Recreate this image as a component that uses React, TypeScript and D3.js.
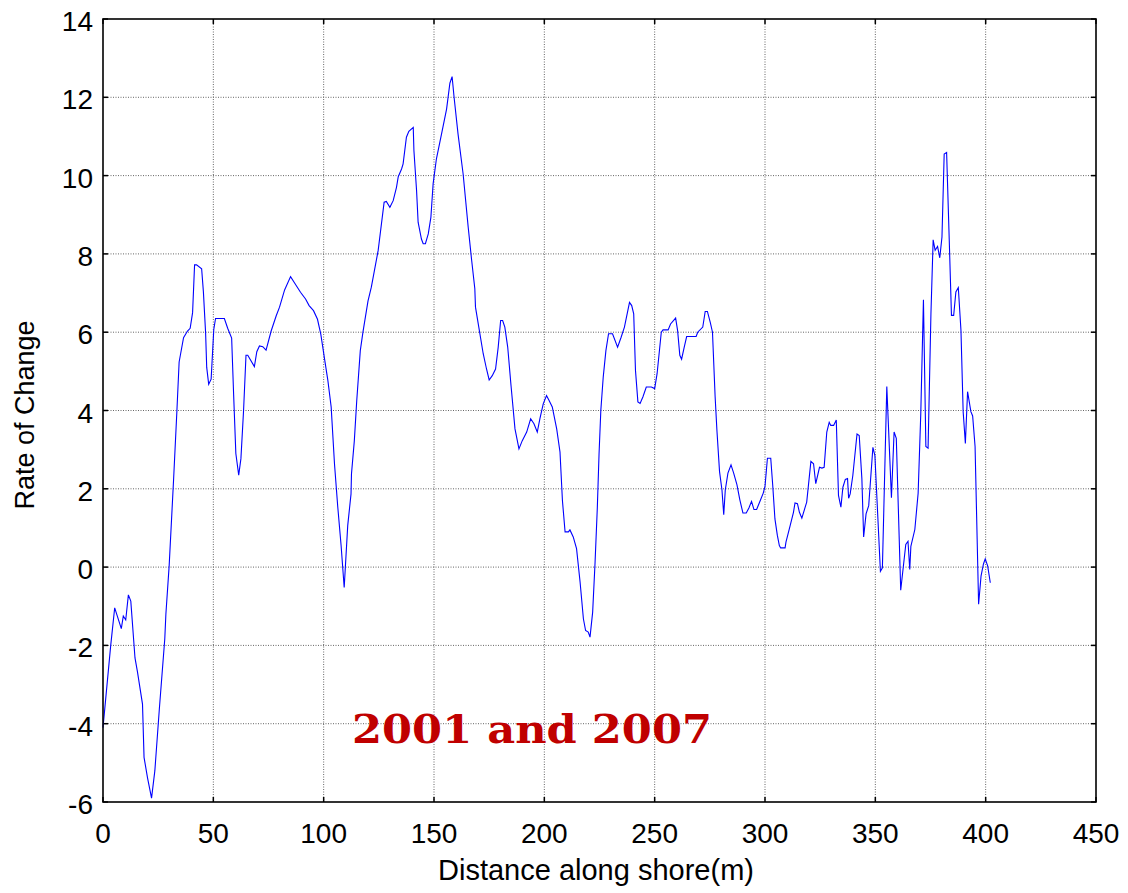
import * as d3 from "d3";

const distance = [
  0, 3.5, 5.3, 8.3, 9.2, 10.3, 11.5, 12.6, 14.5, 15.6, 17.9, 18.6, 20.2, 22, 23.5, 25.5, 28, 28.5, 30, 32,
  33.5, 34.5, 36.5, 38.3, 39.5, 40.6, 41.5, 42.4, 44.7, 45.5, 46.5, 47, 47.9, 49, 50.2, 51, 55, 56.5, 58.3, 59.2,
  60.2, 61.5, 62.5, 63.7, 64.8, 65.6, 68.6, 69.7, 70.9, 72.4, 73.9, 76.2, 78.5, 80, 82.3, 85, 86.9, 89.5, 91.8, 93.4,
  95.4, 97.2, 98.7, 100.5, 101.9, 103.4, 104.9, 106.4, 107.9, 109.3, 110.9, 112.4, 112.6, 113.9, 115, 116.6, 117.8, 120.1, 121.6, 124.7,
  127.4, 128.4, 130, 131.5, 133, 133.8, 135.3, 136, 137.5, 138.6, 140.6, 140.9, 142.1, 142.8, 144.3, 145.1, 146.1, 147.4, 148.6, 149.6,
  151.1, 153.4, 155.7, 157.2, 158.2, 159.1, 160.9, 163.2, 165.5, 167, 168.5, 168.8, 170.3, 172.3, 173.8, 175, 176.4, 177.9, 179.1, 180.2,
  181.1, 182.1, 183.4, 184.9, 186.7, 188.5, 190, 192, 193.8, 195.3, 196.8, 198, 199.5, 201, 202.1, 203.6, 205.6, 207.1, 208.2, 209.4,
  210.9, 211.6, 213.1, 214.6, 216.2, 217.7, 218.7, 219.9, 220.7, 221.9, 223, 224, 224.8, 225.6, 226.7, 227.9, 229.1, 230.9, 233.2, 234.8,
  236.3, 238.6, 239.6, 240.5, 241.3, 242.4, 243.4, 244.7, 246.2, 248.5, 250, 251.1, 253, 253.8, 256.1, 257.2, 259.5, 260.4, 261.4, 262.2,
  263.4, 264.5, 268.8, 269.5, 271.8, 272.9, 273.9, 275.2, 276.2, 277.4, 278.2, 279.4, 280.5, 281.3, 282, 283.2, 284.6, 285.8, 287.3, 288.6,
  290, 291.5, 292.7, 293.9, 295, 296.2, 298, 299.2, 300, 301.1, 302.6, 303.5, 304.5, 305.6, 306.5, 307.1, 309.1, 309.5, 311.4, 312.9,
  313.6, 314.7, 315.6, 316.7, 318.2, 318.9, 320.8, 322, 323, 324.7, 325.8, 326.8, 328, 329.1, 329.8, 331.1, 332.3, 333.3, 334.4, 335.3,
  336.4, 337.4, 337.9, 338.6, 339.8, 341.7, 342.7, 343.9, 344.7, 345.8, 347, 348.9, 349.8, 352.3, 353.2, 355.2, 357.3, 358.5, 359.5, 361.5,
  363.8, 364.8, 365.6, 366.1, 367.9, 369.4, 370.6, 371.8, 372.9, 373.9, 375.2, 376.2, 377.1, 378.2, 379.2, 380.2, 381.2, 382.3, 383.5, 384.5,
  385.5, 386.5, 387.6, 388.8, 389.8, 390.8, 391.8, 393.3, 394.1, 395.2, 396.8, 397.9, 399, 399.8, 400.9, 402.1,
];

const rate = [
  -4.1, -2.0, -1.04, -1.57, -1.25, -1.35, -0.71, -0.87, -2.32, -2.67, -3.5, -4.86, -5.39, -5.9, -5.2, -3.65, -1.83, -1.2, 0.05, 2.25,
  4.0, 5.24, 5.86, 6.03, 6.1, 6.5, 7.72, 7.72, 7.62, 7.03, 5.98, 5.1, 4.67, 4.8, 6.07, 6.35, 6.35, 6.1, 5.85, 4.4,
  2.9, 2.35, 2.77, 4.0, 5.41, 5.41, 5.12, 5.5, 5.65, 5.63, 5.54, 6.03, 6.42, 6.64, 7.08, 7.42, 7.25, 7.02, 6.85, 6.68,
  6.55, 6.33, 5.95, 5.28, 4.77, 4.09, 2.64, 1.53, 0.55, -0.52, 1.06, 1.87, 2.38, 3.23, 4.26, 5.53, 6.0, 6.8, 7.15, 8.09,
  9.32, 9.34, 9.19, 9.36, 9.7, 9.97, 10.17, 10.3, 10.98, 11.13, 11.23, 10.64, 9.62, 8.81, 8.38, 8.26, 8.26, 8.51, 8.94, 9.79,
  10.43, 11.06, 11.7, 12.36, 12.53, 12.0, 11.06, 10.04, 8.68, 7.87, 7.11, 6.64, 6.13, 5.45, 5.06, 4.78, 4.89, 5.06, 5.62, 6.3,
  6.3, 6.13, 5.62, 4.64, 3.53, 3.02, 3.23, 3.45, 3.79, 3.66, 3.45, 3.79, 4.17, 4.38, 4.26, 4.09, 3.53, 2.94, 1.7, 0.9,
  0.9, 0.95, 0.77, 0.47, -0.38, -1.32, -1.62, -1.66, -1.79, -1.15, 0.13, 1.5, 2.9, 4.0, 4.86, 5.53, 5.96, 5.96, 5.62, 5.87,
  6.13, 6.76, 6.68, 6.47, 5.03, 4.22, 4.18, 4.35, 4.6, 4.6, 4.56, 4.94, 6.0, 6.06, 6.06, 6.21, 6.36, 6.04, 5.41, 5.31,
  5.62, 5.89, 5.89, 6.0, 6.13, 6.53, 6.53, 6.25, 6.0, 4.35, 3.5, 2.44, 1.97, 1.34, 1.97, 2.4, 2.61, 2.4, 2.1, 1.72,
  1.38, 1.38, 1.51, 1.68, 1.47, 1.47, 1.72, 1.89, 2.06, 2.78, 2.78, 2.09, 1.23, 0.81, 0.55, 0.49, 0.49, 0.64, 1.06, 1.4,
  1.64, 1.62, 1.4, 1.25, 1.53, 1.66, 2.7, 2.64, 2.13, 2.55, 2.53, 2.55, 3.45, 3.7, 3.62, 3.62, 3.76, 1.83, 1.53, 2.04,
  2.24, 2.26, 1.76, 1.87, 2.34, 3.4, 3.36, 2.26, 0.77, 1.36, 1.57, 3.06, 2.85, -0.11, -0.02, 4.61, 1.77, 3.45, 3.29, -0.59,
  0.58, 0.66, -0.06, 0.53, 0.96, 1.89, 3.93, 6.83, 3.08, 3.04, 6.48, 8.36, 8.09, 8.19, 7.9, 8.43, 10.55, 10.59, 8.34, 6.43,
  6.43, 7.03, 7.14, 6.05, 3.97, 3.16, 4.48, 3.97, 3.86, 3.08, -0.95, -0.23, 0.08, 0.21, 0.03, -0.4,
];

const xTicks = [0, 50, 100, 150, 200, 250, 300, 350, 400, 450];
const yTicks = [-6, -4, -2, 0, 2, 4, 6, 8, 10, 12, 14];

const labelFont = '"Liberation Sans", Arial, sans-serif';

export default function App() {
  const width = 1128;
  const height = 893;

  const x = d3.scaleLinear().domain([0, 450]).range([103, 1096]);
  const y = d3.scaleLinear().domain([-6, 14]).range([802, 19]);
  const [x0, x1] = x.range();
  const [y0, y1] = y.range();

  const line = d3
    .line<number>()
    .x((d, i) => x(distance[i]))
    .y((d) => y(d));

  const tick = 5;

  return (
    <div>
      <style>{`body{margin:0}`}</style>
      <svg width={width} height={height} style={{ display: "block", background: "#fff" }}>
        {/* grid */}
        <g stroke="#666" strokeWidth={1} strokeDasharray="1,1.5">
          {xTicks.slice(1, -1).map((t) => (
            <line key={"gx" + t} x1={x(t)} x2={x(t)} y1={y1} y2={y0} />
          ))}
          {yTicks.slice(1, -1).map((t) => (
            <line key={"gy" + t} x1={x0} x2={x1} y1={y(t)} y2={y(t)} />
          ))}
        </g>

        {/* inner ticks on all four sides */}
        <g stroke="#000" strokeWidth={1.5}>
          {xTicks.map((t) => (
            <g key={"tx" + t}>
              <line x1={x(t)} x2={x(t)} y1={y0} y2={y0 - tick} />
              <line x1={x(t)} x2={x(t)} y1={y1} y2={y1 + tick} />
            </g>
          ))}
          {yTicks.map((t) => (
            <g key={"ty" + t}>
              <line x1={x0} x2={x0 + tick} y1={y(t)} y2={y(t)} />
              <line x1={x1} x2={x1 - tick} y1={y(t)} y2={y(t)} />
            </g>
          ))}
        </g>

        <path d={line(rate) ?? ""} fill="none" stroke="#0000ff" strokeWidth={1.1} />

        <rect
          x={x0}
          y={y1}
          width={x1 - x0}
          height={y0 - y1}
          fill="none"
          stroke="#000"
          strokeWidth={1.6}
        />

        {/* tick labels */}
        <g fontFamily={labelFont} fontSize={28} fill="#000">
          {xTicks.map((t) => (
            <text key={"lx" + t} x={x(t)} y={843} textAnchor="middle">
              {t}
            </text>
          ))}
          {yTicks.map((t) => (
            <text key={"ly" + t} x={93} y={y(t) + 12} textAnchor="end">
              {t}
            </text>
          ))}
        </g>

        <text
          x={596}
          y={880}
          textAnchor="middle"
          fontFamily={labelFont}
          fontSize={29}
          fill="#000"
        >
          Distance along shore(m)
        </text>
        <text
          transform="translate(34,415) rotate(-90)"
          textAnchor="middle"
          fontFamily={labelFont}
          fontSize={27}
          fill="#000"
        >
          Rate of Change
        </text>

        <text
          x={352}
          y={743}
          fontFamily='"DejaVu Serif", "Liberation Serif", serif'
          fontWeight="bold"
          fontSize={40}
          fill="#c00000"
          textLength={360}
          lengthAdjust="spacingAndGlyphs"
        >
          2001 and 2007
        </text>
      </svg>
    </div>
  );
}
